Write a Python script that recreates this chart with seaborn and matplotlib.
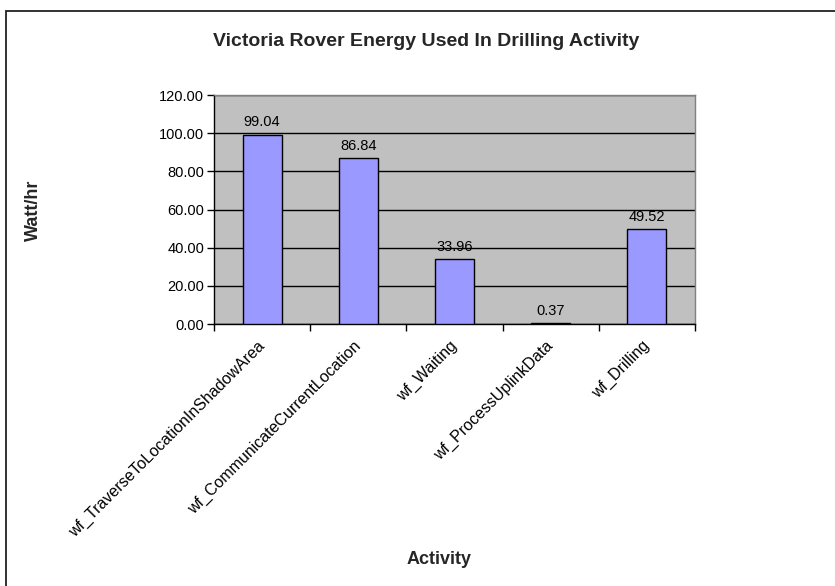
import matplotlib
matplotlib.use("Agg")
import matplotlib.pyplot as plt
from matplotlib.patches import Rectangle
import seaborn as sns
import pandas as pd

activities = [
    "wf_TraverseToLocationInShadowArea",
    "wf_CommunicateCurrentLocation",
    "wf_Waiting",
    "wf_ProcessUplinkData",
    "wf_Drilling",
]
energy = [99.04, 86.84, 33.96, 0.37, 49.52]
y_ticks = [0, 20, 40, 60, 80, 100, 120]

df = pd.DataFrame({"Activity": activities, "Energy": energy})

sns.set_theme(style="white")
plt.rcParams["font.family"] = ["Liberation Sans", "DejaVu Sans"]

fig = plt.figure(figsize=(8.35, 5.86), dpi=100)
fig.patch.set_facecolor("white")

# outer chart border
fig.add_artist(Rectangle((6 / 835, -0.1), 1.2, 1 - 11 / 586 + 0.1,
                         transform=fig.transFigure, fill=False,
                         edgecolor="#222222", linewidth=1.3))

ax = fig.add_axes([214 / 835, 1 - 324 / 586, (695 - 214) / 835, (324 - 95) / 586])
ax.set_facecolor("#C0C0C0")

sns.barplot(data=df, x="Activity", y="Energy", order=activities, ax=ax,
            color="#9999FF", saturation=1, width=0.405,
            edgecolor="black", linewidth=1.0, zorder=3)

ax.set_ylim(0, 120)
ax.set_xlim(-0.5, len(activities) - 0.5)
ax.set_yticks(y_ticks)
ax.set_yticklabels([f"{v:.2f}" for v in y_ticks], fontsize=10.5, color="black")
ax.yaxis.grid(True, color="black", linewidth=1.0, zorder=1)
ax.set_axisbelow(True)

# category labels at centers, tick marks at category boundaries
ax.set_xticks(range(len(activities)))
ax.set_xticklabels(activities, rotation=45, ha="right", va="center",
                   rotation_mode="anchor", fontsize=11.5, color="black")
ax.tick_params(axis="x", which="major", length=0, pad=14)
ax.set_xticks([i - 0.5 for i in range(len(activities) + 1)], minor=True)
ax.tick_params(axis="x", which="minor", length=5, width=1, color="black",
               direction="out", bottom=True)
ax.tick_params(axis="y", length=5, width=1, color="black", direction="out",
               left=True, pad=2)

for s in ["left", "bottom"]:
    ax.spines[s].set_color("black")
    ax.spines[s].set_linewidth(1.0)
for s in ["top", "right"]:
    ax.spines[s].set_color("#808080")
    ax.spines[s].set_linewidth(1.0)

for i, v in enumerate(energy):
    ax.annotate(f"{v:.2f}", xy=(i, v), xytext=(0, 4), textcoords="offset points",
                ha="center", va="bottom", fontsize=10.5, color="black")

ax.set_xlabel("")
ax.set_ylabel("")
fig.text(426 / 835, 1 - 42 / 586, "Victoria Rover Energy Used In Drilling Activity",
         ha="center", va="center", fontsize=14, fontweight="bold")
fig.text(33 / 835, 1 - 210 / 586, "Watt/hr", rotation=90, ha="center", va="center",
         fontsize=13, fontweight="bold")
fig.text(439 / 835, 1 - 560 / 586, "Activity", ha="center", va="center",
         fontsize=13, fontweight="bold")

fig.savefig("out.png", dpi=100)
